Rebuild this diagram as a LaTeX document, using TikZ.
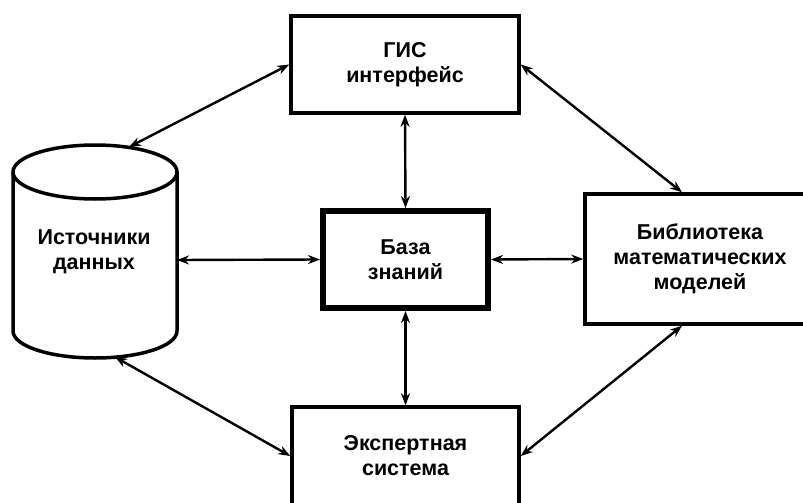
\documentclass[tikz,border=0pt]{standalone}
\usepackage{fontspec}
\setmainfont{Liberation Sans}
\usetikzlibrary{arrows.meta}
\begin{document}
\begin{tikzpicture}[x=1pt,y=-1pt,
  lbl/.style={font=\bfseries\fontsize{21.5}{25}\selectfont,align=center},
  blk/.style={lbl,draw,line width=3.5pt,fill=white,inner sep=0pt},
  core/.style={blk,line width=6pt},
  link/.style={{Stealth[length=12pt,width=9pt]}-{Stealth[length=12pt,width=9pt]},line width=2.4pt}
]
\useasboundingbox (0,0) rectangle (803,503);
\clip (0,0) rectangle (803,503);

% data sources drawn as a cylinder
\draw[line width=3.5pt,fill=white]
  (13,172) arc[start angle=180,end angle=360,x radius=82,y radius=27]
  -- (177,331) arc[start angle=0,end angle=180,x radius=82,y radius=27]
  -- cycle;
\draw[line width=3.5pt] (13,172) arc[start angle=180,end angle=0,x radius=82,y radius=27];
\node[lbl] (src) at (94,252) {Источники\\данных};
\coordinate (srcTop) at (129,147);
\coordinate (srcBot) at (115,357);
\coordinate (srcR) at (177,260);

% blocks
\node[blk,minimum width=228pt,minimum height=97pt] (gis) at (405,64.5) {ГИС\\интерфейс};
\node[core,minimum width=165pt,minimum height=97pt] (kb) at (405.5,259.5) {База\\знаний};
\node[blk,minimum width=230pt,minimum height=130pt] (lib) at (700,259) {Библиотека\\математических\\моделей};
\node[blk,minimum width=227pt,minimum height=98pt] (exp) at (405.5,456) {Экспертная\\система};

% connectors
\draw[link] (srcTop) -- (gis.west);
\draw[link] (gis.east) -- ([xshift=-18pt]lib.north);
\draw[link] (gis.south) -- (kb.north);
\draw[link] (srcR) -- (kb.west);
\draw[link] (kb.east) -- (lib.west);
\draw[link] (kb.south) -- (exp.north);
\draw[link] (srcBot) -- (exp.west);
\draw[link] (exp.east) -- ([xshift=-18pt]lib.south);
\end{tikzpicture}
\end{document}
